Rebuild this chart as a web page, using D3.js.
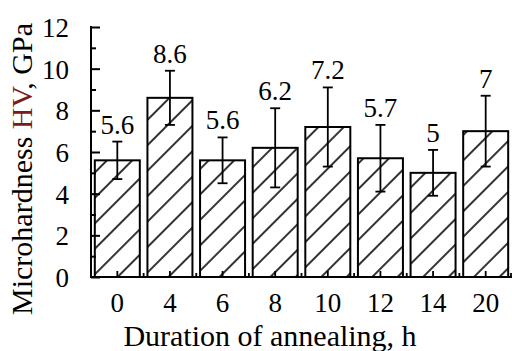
<!DOCTYPE html>
<html>
<head>
<meta charset="utf-8">
<script src="https://cdn.jsdelivr.net/npm/d3@7/dist/d3.min.js"></script>
<style>
  body { margin: 0; background: #fff; }
  svg text { font-family: 'Liberation Serif', 'Times New Roman', serif !important; fill: #000; }
</style>
</head>
<body>
<div id="chart"></div>
<script>
// annealing duration (h), microhardness and its error
const categories = ["0", "4", "6", "8", "10", "12", "14", "20"];
const values = [5.6, 8.6, 5.6, 6.2, 7.2, 5.7, 5.0, 7.0];
const errors = [0.9, 1.3, 1.1, 1.9, 1.9, 1.6, 1.1, 1.7];
const valueLabels = ["5.6", "8.6", "5.6", "6.2", "7.2", "5.7", "5", "7"];
const yMajor = [0, 2, 4, 6, 8, 10, 12];
const yMinor = [1, 3, 5, 7, 9, 11];

const width = 512, height = 351;
const m = { left: 91, right: 512, top: 27, bottom: 277 };
const serif = "'Liberation Serif', serif";

const svg = d3.select("#chart").append("svg")
    .attr("width", width)
    .attr("height", height);

// diagonal hatch
const pat = svg.append("defs").append("pattern")
    .attr("id", "hatch")
    .attr("patternUnits", "userSpaceOnUse")
    .attr("width", 18).attr("height", 18)
    .attr("patternTransform", "rotate(-45)");
pat.append("line")
    .attr("x1", 0).attr("x2", 18)
    .attr("y1", 9).attr("y2", 9)
    .attr("stroke", "#000").attr("stroke-width", 1.6);

const x = d3.scaleBand()
    .domain(categories)
    .range([m.left, m.right])
    .paddingInner(0.145)
    .paddingOuter(0.0725);

const y = d3.scaleLinear()
    .domain([0, 12])
    .range([m.bottom, m.top]);

const data = categories.map((c, i) => ({ c: c, v: values[i], e: errors[i], lab: valueLabels[i] }));

// bars
svg.selectAll("rect.bar")
    .data(data)
    .join("rect")
    .attr("class", "bar")
    .attr("x", d => x(d.c))
    .attr("y", d => y(d.v))
    .attr("width", x.bandwidth())
    .attr("height", d => y(0) - y(d.v))
    .attr("fill", "url(#hatch)")
    .attr("stroke", "#000")
    .attr("stroke-width", 2);

// error bars
const eb = svg.selectAll("g.err")
    .data(data)
    .join("g")
    .attr("class", "err")
    .attr("transform", d => `translate(${x(d.c) + x.bandwidth() / 2},0)`);
eb.append("line")
    .attr("y1", d => y(d.v - d.e))
    .attr("y2", d => y(d.v + d.e))
    .attr("stroke", "#000").attr("stroke-width", 1.8);
eb.append("line")
    .attr("x1", -5).attr("x2", 5)
    .attr("y1", d => y(d.v + d.e)).attr("y2", d => y(d.v + d.e))
    .attr("stroke", "#000").attr("stroke-width", 1.8);
eb.append("line")
    .attr("x1", -5).attr("x2", 5)
    .attr("y1", d => y(d.v - d.e)).attr("y2", d => y(d.v - d.e))
    .attr("stroke", "#000").attr("stroke-width", 1.8);
eb.append("text")
    .attr("y", d => y(d.v + d.e) - 8)
    .attr("text-anchor", "middle")
    .style("font-family", serif)
    .style("font-size", "27px")
    .text(d => d.lab);

// y axis
const yAxis = svg.append("g")
    .attr("transform", `translate(${m.left},0)`)
    .call(d3.axisLeft(y).tickValues(yMajor).tickSize(-9).tickPadding(22).tickFormat(d3.format("d")));
yAxis.select(".domain").remove();
yAxis.selectAll(".tick line").attr("stroke-width", 2);
yAxis.selectAll(".tick text")
    .style("font-size", "27px")
    .style("font-family", serif)
    .attr("dy", "0.35em");

const yMin = svg.append("g")
    .attr("transform", `translate(${m.left},0)`)
    .call(d3.axisLeft(y).tickValues(yMinor).tickSize(-5).tickFormat(""));
yMin.select(".domain").remove();
yMin.selectAll(".tick line").attr("stroke-width", 2);

svg.append("line")
    .attr("x1", m.left).attr("x2", m.left)
    .attr("y1", y(0) + 1).attr("y2", y(12) - 1)
    .attr("stroke", "#000").attr("stroke-width", 2);

// x axis
const xAxis = svg.append("g")
    .attr("transform", `translate(0,${m.bottom})`)
    .call(d3.axisBottom(x).tickSize(-6).tickPadding(16));
xAxis.select(".domain").remove();
xAxis.selectAll(".tick line").attr("stroke-width", 1.8);
xAxis.selectAll(".tick text")
    .style("font-size", "27px")
    .style("font-family", serif)
    .attr("dy", "0.71em");

// small ticks between the bars
const gaps = categories.slice(1).map(c => x(c) - x.step() * x.paddingInner() / 2);
gaps.push(m.right - 1);
svg.selectAll("line.gap")
    .data(gaps)
    .join("line")
    .attr("class", "gap")
    .attr("x1", d => d).attr("x2", d => d)
    .attr("y1", m.bottom).attr("y2", m.bottom - 4)
    .attr("stroke", "#000").attr("stroke-width", 1.8);

svg.append("line")
    .attr("x1", m.left - 1).attr("x2", m.right)
    .attr("y1", m.bottom).attr("y2", m.bottom)
    .attr("stroke", "#000").attr("stroke-width", 2.2);

// titles
const yt = svg.append("text")
    .attr("transform", `translate(32,${(18 + 320) / 2}) rotate(-90)`)
    .attr("text-anchor", "middle")
    .style("font-family", serif)
    .style("font-size", "30px");
yt.append("tspan").text("Microhardness ");
yt.append("tspan").style("fill", "#7a1a1a").text("HV");
yt.append("tspan").text(", GPa");

svg.append("text")
    .attr("x", 270)
    .attr("y", 346)
    .attr("text-anchor", "middle")
    .style("font-family", serif)
    .style("font-size", "30px")
    .text("Duration of annealing, h");
</script>
</body>
</html>
